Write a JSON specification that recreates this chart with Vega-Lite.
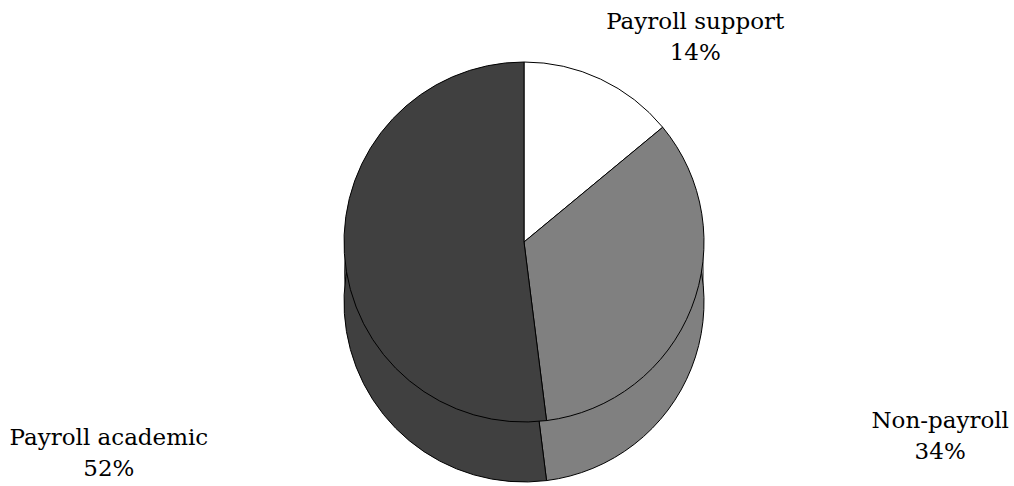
{
  "$schema": "https://vega.github.io/schema/vega-lite/v6.json",
  "autosize": {"type": "none"},
  "width": 980,
  "height": 484,
  "padding": {"left": 34, "right": 0, "top": 0, "bottom": 2},
  "background": "white",
  "config": {"view": {"stroke": null}},
  "data": {
    "values": [
      {"category": "Payroll support", "share": 14, "label": "Payroll support\n14%"},
      {"category": "Non-payroll", "share": 34, "label": "Non-payroll\n34%"},
      {"category": "Payroll academic", "share": 52, "label": "Payroll academic\n52%"}
    ]
  },
  "encoding": {
    "theta": {"field": "share", "type": "quantitative", "stack": true},
    "order": {"field": "share", "type": "quantitative", "sort": "ascending"},
    "color": {
      "field": "category",
      "type": "nominal",
      "scale": {"domain": ["Payroll support", "Non-payroll", "Payroll academic"], "range": ["#FFFFFF", "#808080", "#404040"]},
      "legend": null
    }
  },
  "layer": [
    {"mark": {"type": "arc", "radius": 180, "yOffset": 30, "strokeWidth": 0}},
    {"mark": {"type": "arc", "radius": 180, "yOffset": 60, "stroke": "black", "strokeWidth": 1}},
    {"mark": {"type": "arc", "radius": 180, "stroke": "black", "strokeWidth": 1}},
    {
      "mark": {"type": "text", "radius": 279, "thetaOffset": 0.221, "font": "DejaVu Serif", "fontSize": 23, "lineHeight": 31, "lineBreak": "\n", "align": "center", "baseline": "middle", "color": "black"},
      "encoding": {"text": {"condition": {"test": "datum.category === 'Payroll support'", "field": "label"}, "value": ""}, "color": {"value": "black"}}
    },
    {
      "mark": {"type": "text", "radius": 453, "thetaOffset": 0.029, "font": "DejaVu Serif", "fontSize": 23, "lineHeight": 31, "lineBreak": "\n", "align": "center", "baseline": "middle", "color": "black"},
      "encoding": {"text": {"condition": {"test": "datum.category === 'Non-payroll'", "field": "label"}, "value": ""}, "color": {"value": "black"}}
    },
    {
      "mark": {"type": "text", "radius": 459, "thetaOffset": -0.378, "font": "DejaVu Serif", "fontSize": 23, "lineHeight": 31, "lineBreak": "\n", "align": "center", "baseline": "middle", "color": "black"},
      "encoding": {"text": {"condition": {"test": "datum.category === 'Payroll academic'", "field": "label"}, "value": ""}, "color": {"value": "black"}}
    }
  ]
}
